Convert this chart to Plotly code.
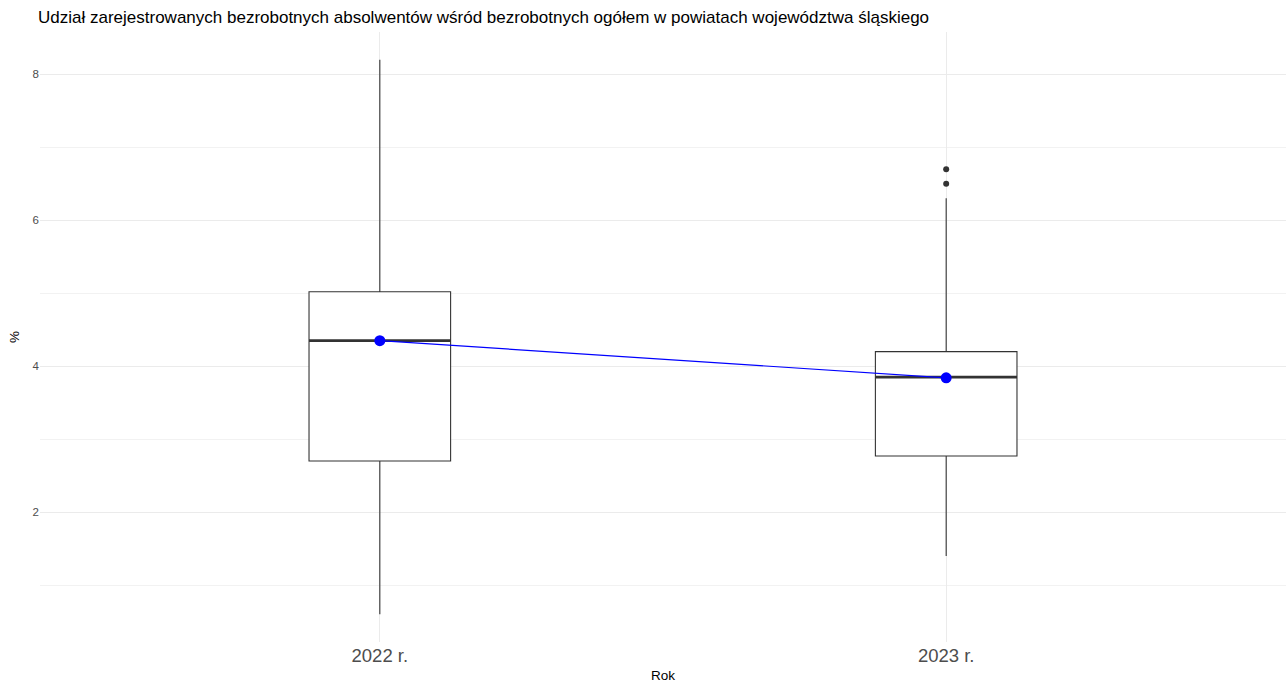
import plotly.graph_objects as go

categories = ["2022 r.", "2023 r."]
q1 = [2.70, 2.77]
median = [4.35, 3.85]
q3 = [5.02, 4.20]
lower = [0.60, 1.40]
upper = [8.20, 6.30]
means = [4.35, 3.84]
outliers_2023 = [6.70, 6.50]
outlier_groups = [[], outliers_2023]

BOX_W = 0.25
xpos = list(range(len(categories)))

W, H = 1286, 685
ML, MR, MT, MB = 40, 0, 32, 43
PW, PH = W - ML - MR, H - MT - MB

fig = go.Figure()
for i, cat in enumerate(categories):
    fig.add_trace(go.Box(
        x=[xpos[i]], q1=[q1[i]], median=[median[i]], q3=[q3[i]],
        lowerfence=[lower[i]], upperfence=[upper[i]],
        width=BOX_W, whiskerwidth=0, boxpoints=False,
        fillcolor="white", line=dict(color="#333333", width=1.1),
        showlegend=False, hoverinfo="skip",
    ))
    fig.add_trace(go.Scatter(
        x=[xpos[i] - BOX_W / 2, xpos[i] + BOX_W / 2], y=[median[i], median[i]],
        mode="lines", line=dict(color="#333333", width=2.8),
        showlegend=False, hoverinfo="skip",
    ))
    if outlier_groups[i]:
        fig.add_trace(go.Scatter(
            x=[xpos[i]] * len(outlier_groups[i]), y=outlier_groups[i],
            mode="markers", marker=dict(color="#333333", size=6),
            showlegend=False, hoverinfo="skip",
        ))

fig.add_trace(go.Scatter(
    x=xpos, y=means, mode="lines+markers",
    line=dict(color="blue", width=1.2),
    marker=dict(color="blue", size=11),
    showlegend=False, hoverinfo="skip",
))

fig.update_layout(
    width=W, height=H,
    margin=dict(l=ML, r=MR, t=MT, b=MB, autoexpand=False),
    paper_bgcolor="white", plot_bgcolor="white",
    font=dict(family="Liberation Sans, Arial, sans-serif", color="black"),
    title=dict(
        text="Udział zarejestrowanych bezrobotnych absolwentów wśród bezrobotnych ogółem w powiatach województwa śląskiego",
        x=38 / W, xref="container", xanchor="left",
        y=1 - 17 / H, yref="container", yanchor="middle",
        font=dict(size=17, color="black"),
    ),
    xaxis=dict(
        range=[-0.6, 1.6], tickvals=xpos, ticktext=categories,
        showgrid=True, gridcolor="#ebebeb", gridwidth=1,
        zeroline=False, showline=False, ticks="", automargin=False,
        tickfont=dict(size=18.5, color="#4d4d4d"),
    ),
    yaxis=dict(
        range=[0.22, 8.58], tickvals=[2, 4, 6, 8],
        showgrid=True, gridcolor="#ebebeb", gridwidth=1.2,
        minor=dict(tickvals=[1, 3, 5, 7], showgrid=True, gridcolor="#f2f2f2", gridwidth=1),
        zeroline=False, showline=False, ticks="", automargin=False,
        tickfont=dict(size=11.5, color="#4d4d4d"),
    ),
    annotations=[
        dict(text="Rok", xref="paper", yref="paper", x=0.5,
             y=-(675 - (MT + PH)) / PH, xanchor="center", yanchor="middle",
             showarrow=False, font=dict(size=13.5, color="black")),
        dict(text="%", xref="paper", yref="paper", x=-(ML - 14) / PW, y=0.5,
             xanchor="center", yanchor="middle", textangle=-90,
             showarrow=False, font=dict(size=13.5, color="black")),
    ],
)

fig.write_html("out.html", config={"displayModeBar": False},
               post_script="document.body.style.margin='0';document.body.style.overflow='hidden';")
